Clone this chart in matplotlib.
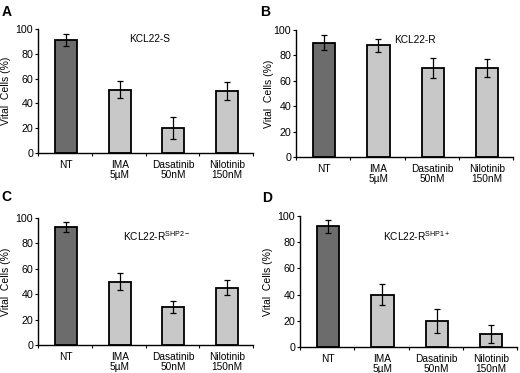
import matplotlib
matplotlib.use("Agg")
import matplotlib.pyplot as plt

plt.rcParams['font.family'] = ['Liberation Sans', 'DejaVu Sans']
plt.rcParams['mathtext.fontset'] = 'custom'
plt.rcParams['mathtext.rm'] = 'Liberation Sans'
plt.rcParams['mathtext.it'] = 'Liberation Sans'

categories = ["NT", "IMA\n5µM", "Dasatinib\n50nM", "Nilotinib\n150nM"]
panel_letters = ["A", "B", "C", "D"]
titles = ["KCL22-S", "KCL22-R", "KCL22-R$^{\\mathrm{SHP2-}}$", "KCL22-R$^{\\mathrm{SHP1+}}$"]
values_A = [91, 51, 20, 50]
errors_A = [5, 7, 9, 7]
values_B = [90, 88, 70, 70]
errors_B = [6, 5, 8, 7]
values_C = [93, 50, 30, 45]
errors_C = [4, 7, 5, 6]
values_D = [92, 40, 20, 10]
errors_D = [5, 8, 9, 7]
yticks = [0, 20, 40, 60, 80, 100]

W, H = 520, 373
fig = plt.figure(figsize=(W / 100, H / 100), dpi=100)

# axes boxes in pixels: left, right, bottom(y of 0), top(y of 100)
boxes = [(38, 253, 153, 29), (296, 513, 157, 30), (38, 253, 345, 218), (300, 517, 347, 216)]
letter_pos = [(7, 12), (265, 12), (6, 197), (267, 198)]
title_pos = [(150, 39), (415, 40), (157, 236), (417, 236)]
ylabel_x = [6, 269, 6, 268]
all_vals = [values_A, values_B, values_C, values_D]
all_errs = [errors_A, errors_B, errors_C, errors_D]
colors = ["#6c6c6c", "#c8c8c8", "#c8c8c8", "#c8c8c8"]

for i in range(4):
    l, r, b, t = boxes[i]
    ax = fig.add_axes([l / W, 1 - b / H, (r - l) / W, (b - t) / H])
    x = [k + 0.52 for k in range(4)]
    ax.bar(x, all_vals[i], width=0.41, color=colors, edgecolor="black", linewidth=1.3, zorder=2)
    ax.errorbar(x, all_vals[i], yerr=all_errs[i], fmt="none", ecolor="black",
                elinewidth=0.9, capsize=2.5, capthick=0.9, zorder=3)
    ax.set_xlim(0, 4)
    ax.set_ylim(0, 100)
    ax.set_yticks(yticks)
    ax.tick_params(axis="y", labelsize=7.7, length=2.5, width=0.8, pad=1)
    ax.set_xticks([0, 1, 2, 3, 4])
    ax.set_xticklabels([])
    ax.set_xticks(x, minor=True)
    ax.set_xticklabels(categories, minor=True, fontsize=7.3, linespacing=1.0)
    ax.tick_params(axis="x", which="major", length=2.5, width=0.8)
    ax.tick_params(axis="x", which="minor", length=0, pad=5)
    for s in ["top", "right"]:
        ax.spines[s].set_visible(False)
    for s in ["left", "bottom"]:
        ax.spines[s].set_linewidth(1.0)
    fig.text(ylabel_x[i] / W, 1 - ((b + t) / 2) / H, "Vital  Cells (%)", fontsize=7.5,
             rotation=90, ha="center", va="center")
    tx, ty = title_pos[i]
    fig.text(tx / W, 1 - ty / H, titles[i], fontsize=7.3, ha="center", va="center")
    lx, ly = letter_pos[i]
    fig.text(lx / W, 1 - ly / H, panel_letters[i], fontsize=10, fontweight="bold", ha="center", va="center")

fig.savefig("out.png", dpi=100)
